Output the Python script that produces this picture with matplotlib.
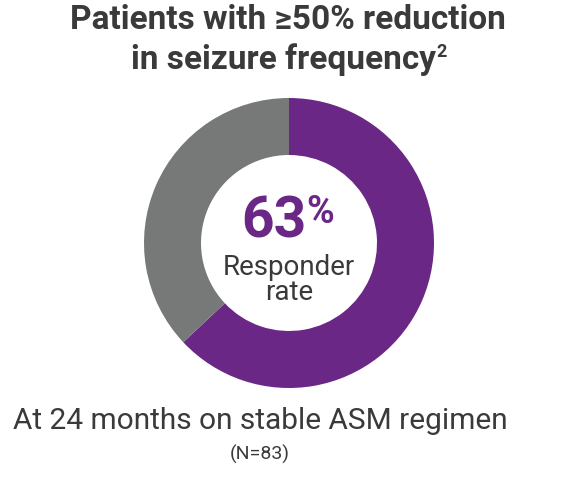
import matplotlib
matplotlib.use("Agg")
import matplotlib.pyplot as plt
from matplotlib.patches import Wedge

# data
labels = ["Responders", "Non-responders"]
values = [63, 37]
colors = ["#6a2785", "#777878"]

title_lines = ["Patients with \u226550% reduction", "in seizure frequency"]
title_sup = "2"
center_value = "63"
center_label = "Responder\nrate"
footer = "At 24 months on stable ASM regimen"
footer_n = "(N=83)"

TEXT = "#3a3a3a"
plt.rcParams['font.family'] = ['Roboto', 'DejaVu Sans']

fig = plt.figure(figsize=(5.76, 4.89), dpi=100)
ax = fig.add_axes([0, 0, 1, 1])
ax.set_xlim(0, 576)
ax.set_ylim(489, 0)
ax.set_aspect('equal')
ax.axis('off')

# donut, purple runs clockwise from 12 o'clock
cx, cy, r_out, width = 289, 244, 145, 57
total = sum(values)
start = 90
for v, c in zip(values, colors):
    sweep = 360 * v / total
    # y axis is inverted, so angles go the other way
    ax.add_patch(Wedge((cx, cy), r_out, -start, -start + sweep, width=width,
                       facecolor=c, edgecolor='none'))
    start -= sweep

# title, second line carries a bold superscript note
ax.text(288, 29, title_lines[0], ha='center', va='baseline', fontsize=24,
        fontweight='bold', color=TEXT)
t2 = ax.text(283, 69, title_lines[1], ha='center', va='baseline', fontsize=24,
             fontweight='bold', color=TEXT)
fig.canvas.draw()
bb = t2.get_window_extent().transformed(ax.transData.inverted())
ax.text(max(bb.x0, bb.x1) + 1, 57, title_sup, ha='left', va='baseline',
        fontsize=13, fontweight='bold', color=TEXT)

# centre label
ax.text(274, 237, center_value, ha='center', va='baseline', fontsize=41,
        fontweight='bold', color=colors[0])
ax.text(306, 223, "%", ha='left', va='baseline', fontsize=27,
        fontweight='bold', color=colors[0])
ax.text(289, 280, center_label, ha='center', va='center', fontsize=20,
        color=TEXT, linespacing=0.92)

ax.text(260, 421, footer, ha='center', va='center', fontsize=21.5,
        color=TEXT)
ax.text(260, 454, footer_n, ha='center', va='center', fontsize=14,
        color=TEXT)

fig.savefig("out.png", dpi=100, facecolor='white')
